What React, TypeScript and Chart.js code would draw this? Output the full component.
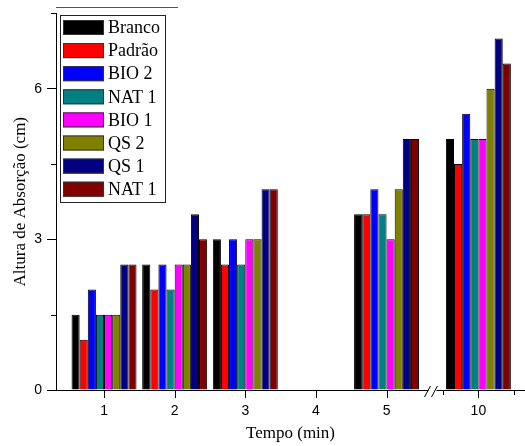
import React, { useEffect, useRef } from 'react';
import { Chart, registerables } from 'chart.js';

Chart.register(...registerables);

// ---- data ----
const categories = ['1', '2', '3', '4', '5', '10'];
const seriesNames = ['Branco', 'Padrão', 'BIO 2', 'NAT 1', 'BIO 1', 'QS 2', 'QS 1', 'NAT 1'];
const seriesColors = ['#000000', '#FF0000', '#0000FF', '#008080', '#FF00FF', '#808000', '#000080', '#800000'];
const branco = [1.5, 2.5, 3.0, null, 3.5, 5.0];
const padrao = [1.0, 2.0, 2.5, null, 3.5, 4.5];
const bio2 = [2.0, 2.5, 3.0, null, 4.0, 5.5];
const nat1a = [1.5, 2.0, 2.5, null, 3.5, 5.0];
const bio1 = [1.5, 2.5, 3.0, null, 3.0, 5.0];
const qs2 = [1.5, 2.5, 3.0, null, 4.0, 6.0];
const qs1 = [2.5, 3.5, 4.0, null, 5.0, 7.0];
const nat1b = [2.5, 3.0, 4.0, null, 5.0, 6.5];
const seriesValues = [branco, padrao, bio2, nat1a, bio1, qs2, qs1, nat1b];

const yMajorTicks = [0, 3, 6];
const yMinorTicks = [1.5, 4.5, 7.5];
const xMinorTicks = [7.5, 12.5];
const yTitle = 'Altura de Absorção (cm)';
const xTitle = 'Tempo (min)';

// axis break between 5 and 10: the right segment is drawn at a compressed scale
const breakAt = 5;
const breakResume = 10;
const breakGap = 1.3;
const rightSegScale = 0.2;
function axisPos(t: number): number {
  return t <= breakAt ? t : breakAt + breakGap + (t - breakResume) * rightSegScale;
}

const SERIF = '"Liberation Serif", "Times New Roman", serif';
const SANS = '"Liberation Sans", Arial, sans-serif';

const extrasPlugin = {
  id: 'extras',
  afterDraw(chart: any) {
    const ctx = chart.ctx;
    const xs = chart.scales.x;
    const ys = chart.scales.y;
    const area = chart.chartArea;
    const axisY = Math.round(ys.getPixelForValue(0));
    const axisX = Math.round(xs.getPixelForValue(xs.min));
    ctx.save();
    ctx.globalCompositeOperation = 'source-over';
    ctx.globalAlpha = 1;
    const xMarks: { v: number; len: number }[] = [];
    for (let k = 0; k < categories.length; k++) xMarks.push({ v: axisPos(parseFloat(categories[k])), len: 8 });
    for (let k = 0; k < xMinorTicks.length; k++) xMarks.push({ v: axisPos(xMinorTicks[k]), len: 5 });
    for (let k = 0; k < xMarks.length; k++) {
      const px = Math.round(xs.getPixelForValue(xMarks[k].v));
      ctx.fillStyle = '#000';
      ctx.fillRect(px, axisY, 1, xMarks[k].len);
    }
    for (let k = 0; k < yMinorTicks.length; k++) {
      const py = Math.round(ys.getPixelForValue(yMinorTicks[k]));
      ctx.fillStyle = '#000';
      ctx.fillRect(axisX - 5, py, 5, 1);
    }
    // axis break
    ctx.strokeStyle = '#000';
    ctx.lineWidth = 1;
    const bx = xs.getPixelForValue(breakAt + breakGap / 2);
    const by = axisY;
    ctx.fillStyle = '#fff';
    ctx.fillRect(bx - 4, by - 2, 8, 4);
    ctx.beginPath();
    ctx.moveTo(bx - 8, by + 7);
    ctx.lineTo(bx - 2, by - 4);
    ctx.moveTo(bx - 1, by + 7);
    ctx.lineTo(bx + 5, by - 4);
    ctx.stroke();

    // legend
    const lx = 60, ly = 15, lw = 105, lh = 187;
    ctx.strokeStyle = '#555';
    ctx.beginPath();
    ctx.moveTo(area.left, 7.5);
    ctx.lineTo(178, 7.5);
    ctx.stroke();
    ctx.fillStyle = '#fff';
    ctx.fillRect(lx, ly, lw, lh);
    ctx.strokeStyle = '#222';
    ctx.strokeRect(lx + 0.5, ly + 0.5, lw, lh);
    ctx.font = '18px ' + SERIF;
    ctx.textBaseline = 'middle';
    ctx.textAlign = 'left';
    chart.data.datasets.forEach((ds: any, i: number) => {
      const ry = 20 + i * 23.1;
      ctx.fillStyle = ds.backgroundColor;
      ctx.fillRect(63, ry, 41, 15);
      ctx.strokeStyle = '#333';
      ctx.strokeRect(63.5, ry + 0.5, 40, 14);
      ctx.fillStyle = '#000';
      ctx.fillText(ds.label, 108, ry + 8.5);
    });
    ctx.restore();
  },
};

export default function App() {
  const ref = useRef<HTMLCanvasElement | null>(null);
  useEffect(() => {
    if (!ref.current) return;
    const datasets = seriesNames.map((name, s) => ({
      label: name,
      data: categories.map((c, i) => ({ x: axisPos(Number(c)), y: seriesValues[s][i] })),
      backgroundColor: seriesColors[s],
      borderColor: '#000',
      borderWidth: 1,
      categoryPercentage: 0.92,
      barPercentage: 1.0,
    }));
    const chart = new Chart(ref.current, {
      type: 'bar',
      data: { datasets },
      options: {
        animation: false,
        responsive: false,
        devicePixelRatio: 1,
        layout: { padding: { top: 13, right: 0, left: 0, bottom: 0 } },
        plugins: { legend: { display: false }, tooltip: { enabled: false } },
        scales: {
          x: {
            type: 'linear',
            min: 0.32,
            max: 6.96,
            offset: false,
            afterBuildTicks: (scale: any) => {
              scale.ticks = categories.map((c) => ({ value: axisPos(Number(c)) }));
            },
            afterFit: (scale: any) => {
              scale.height = 56;
            },
            ticks: {
              autoSkip: false,
              maxRotation: 0,
              padding: 6,
              color: '#000',
              font: { family: SANS, size: 14 },
              callback: (_v: any, i: number) => categories[i],
            },
            grid: { offset: false, drawOnChartArea: false, tickLength: 7, color: 'rgba(0,0,0,0)' },
            border: { color: '#000', width: 1 },
            title: {
              display: true,
              text: xTitle,
              color: '#000',
              font: { family: SERIF, size: 17 },
              padding: { top: 0, bottom: 2 },
            },
          },
          y: {
            min: 0,
            max: 7.5,
            afterBuildTicks: (scale: any) => {
              scale.ticks = yMajorTicks.map((v) => ({ value: v }));
            },
            afterFit: (scale: any) => {
              scale.width = 56;
            },
            ticks: {
              padding: 5,
              color: '#000',
              font: { family: SANS, size: 14 },
              callback: (v: any) => String(v),
            },
            grid: { drawOnChartArea: false, tickLength: 9, color: '#000' },
            border: { color: '#000', width: 1 },
            title: {
              display: true,
              text: yTitle,
              color: '#000',
              font: { family: SERIF, size: 17 },
              padding: { top: 10, bottom: 0 },
            },
          },
        },
      },
      plugins: [extrasPlugin],
    } as any);
    return () => chart.destroy();
  }, []);
  return (
    <div style={{ position: 'absolute', left: 0, top: 0, width: 525, height: 446, background: '#fff' }}>
      <canvas ref={ref} width={525} height={446} style={{ display: 'block' }} />
    </div>
  );
}
